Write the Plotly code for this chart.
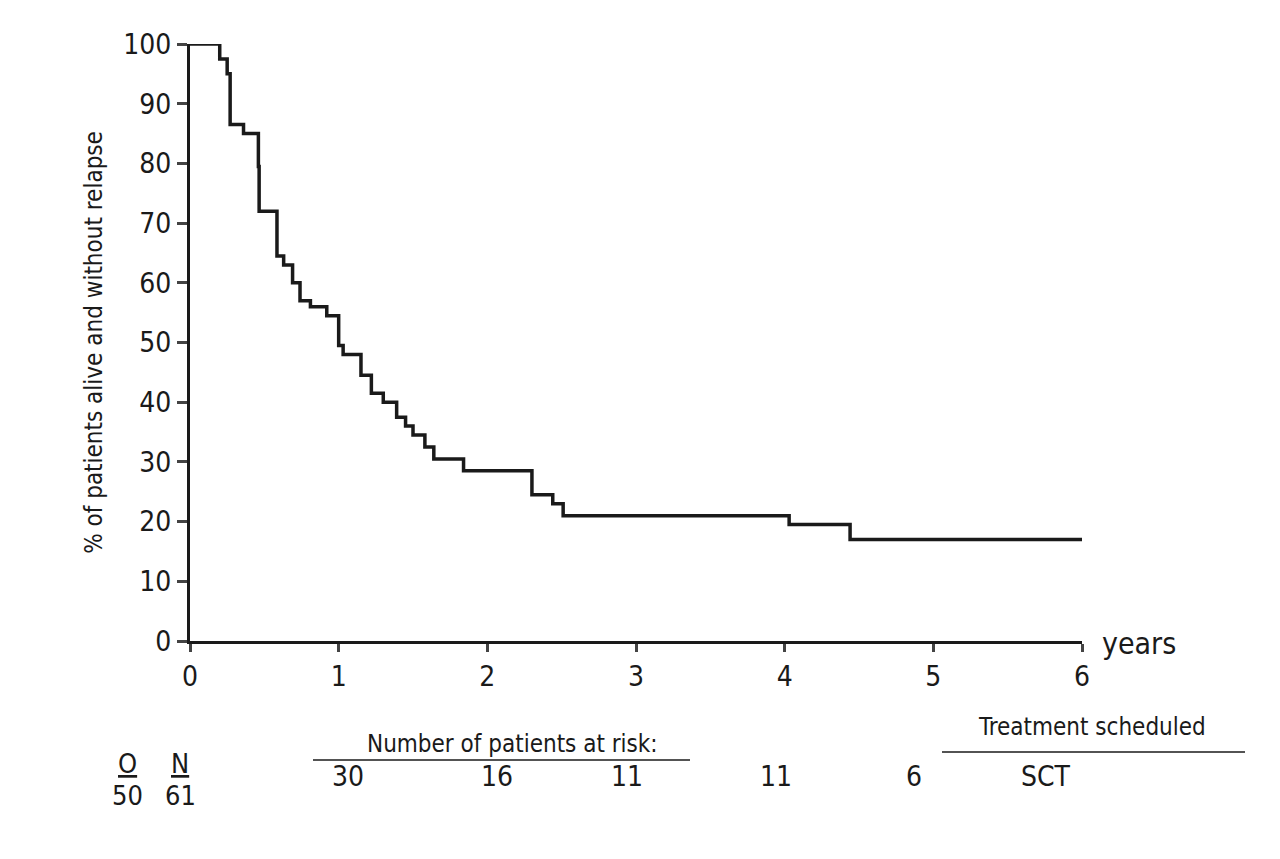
import plotly.graph_objects as go

# step times (years) and % alive without relapse
times = [0, 0.20, 0.25, 0.27, 0.36, 0.46, 0.465, 0.585, 0.63, 0.69, 0.74, 0.81, 0.92,
         1.0, 1.03, 1.15, 1.22, 1.30, 1.39, 1.45, 1.50, 1.58, 1.64, 1.84, 2.30, 2.44,
         2.51, 4.03, 4.44, 6.0]
surv = [100, 97.5, 95, 86.5, 85, 79.5, 72, 64.5, 63, 60, 57, 56, 54.5,
        49.5, 48, 44.5, 41.5, 40, 37.5, 36, 34.5, 32.5, 30.5, 28.5, 24.5, 23,
        21, 19.5, 17, 17]

risk_x = [1.0, 2.0, 3.0, 4.0, 5.0, 6.0]
risk_lbl = ["30", "16", "11", "11", "6", "SCT"]

FONT = "DejaVu Sans Condensed"
INK = "#1a1a1a"


def px2paper(x, y):
    # picture pixels -> paper coords (plot area 190..1082 x 44..641)
    return (x - 190) / 892, (641 - y) / 597


fig = go.Figure()
fig.add_trace(go.Scatter(x=times, y=surv, mode="lines", line_shape="hv",
                         line=dict(color=INK, width=3.5), showlegend=False))

fig.update_xaxes(range=[0, 6], tickvals=[0, 1, 2, 3, 4, 5, 6], ticks="outside",
                 ticklen=8, tickwidth=3, showline=True, linewidth=3, linecolor=INK,
                 showgrid=False, zeroline=False, tickfont=dict(size=28, family=FONT, color=INK))
fig.update_yaxes(range=[0, 100], tickvals=list(range(0, 101, 10)), ticks="outside",
                 ticklen=10, tickwidth=3, showline=True, linewidth=3, linecolor=INK,
                 showgrid=False, zeroline=False, tickfont=dict(size=28, family=FONT, color=INK),
                 title=dict(text="% of patients alive and without relapse", standoff=14,
                            font=dict(size=24, family=FONT, color=INK)))

ann = [
    (1100, 643, "years", 30, "left"),
    (127, 764, "<u>O</u>", 27, "center"), (180, 764, "<u>N</u>", 27, "center"),
    (127, 795, "50", 27, "center"), (180, 795, "61", 27, "center"),
    (512, 744, "Number of patients at risk:", 24, "center"),
    (1092, 727, "Treatment scheduled", 24, "center"),
]
for x, y, t, s, xa in ann:
    xp, yp = px2paper(x, y)
    fig.add_annotation(x=xp, y=yp, xref="paper", yref="paper", text=t, showarrow=False,
                       xanchor=xa, yanchor="middle",
                       font=dict(size=s, family=FONT, color=INK))

for rx, rl in zip(risk_x, risk_lbl):
    xp, yp = px2paper(330 + (rx - 1) * 148.5, 795)
    fig.add_annotation(x=xp, y=yp, xref="paper", yref="paper", text=rl, showarrow=False,
                       font=dict(size=28, family=FONT, color=INK))

for x0, x1, yy in [(313, 690, 760), (942, 1245, 752)]:
    a0, b0 = px2paper(x0, yy)
    a1, _ = px2paper(x1, yy)
    fig.add_shape(type="line", xref="paper", yref="paper", x0=a0, x1=a1, y0=b0, y1=b0,
                  line=dict(color=INK, width=1.5))

fig.update_layout(width=1280, height=859, plot_bgcolor="white", paper_bgcolor="white",
                  margin=dict(l=182, r=206, t=36, b=226), font=dict(family=FONT))

fig.write_html("out.html")
